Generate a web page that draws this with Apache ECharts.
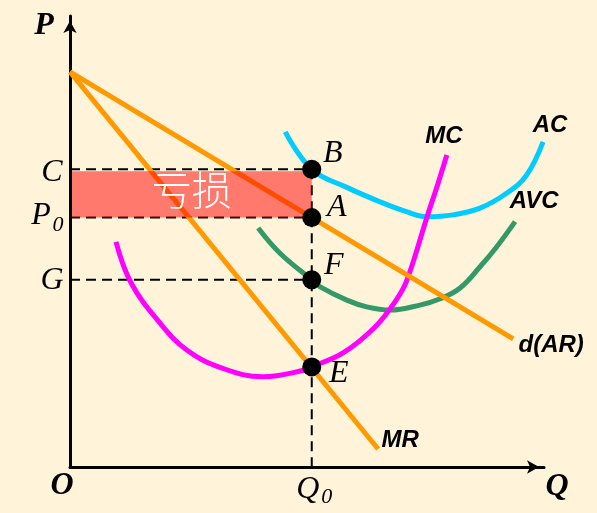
<!DOCTYPE html>
<html>
<head>
<meta charset="utf-8">
<script src="https://cdn.jsdelivr.net/npm/echarts@6/dist/echarts.min.js"></script>
<style>
html,body{margin:0;padding:0;background:#FFF3DA;}
#chart{width:597px;height:513px;}
</style>
</head>
<body>
<div id="chart"></div>
<script>
// ---- data (Q, P) ----
const demandAR = [[0, 87.6], [93.5, 28.4]];
const marginalRevenue = [[0, 87.6], [65, 4]];
const averageCost = [[45.4, 74.3], [51, 66], [58.4, 62.0], [65.4, 58.8], [71.0, 56.6], [75.3, 55.5], [80.8, 55.9], [86.5, 57.4], [92.1, 60.7], [96.3, 64.7], [99.8, 72.1]];
const averageVariableCost = [[39.7, 53.0], [44.3, 47.4], [51, 41.5], [52.7, 40.0], [58.4, 37.0], [62.6, 35.5], [67.5, 34.8], [73.8, 35.9], [78.1, 37.3], [82.3, 39.7], [86.5, 44.4], [90.0, 48.8], [93.9, 54.4]];
const marginalCost = [[9.7, 49.9], [12.9, 40.8], [19.0, 31.9], [24.7, 25.9], [31.9, 22.0], [40.7, 20.0], [49.6, 21.5], [51, 22.2], [57.6, 25.3], [64.3, 31.0], [68.8, 37.0], [71.1, 41.5], [75.3, 55.4], [77.4, 62.1], [79.5, 69.2]];
const outputQ0 = 51;
const pointPrices = [66, 55.3, 41.5, 22.2];   // B, A, F, E
const pointNames = ['B', 'A', 'F', 'E'];
const curveNames = ['d(AR)', 'MR', 'AC', 'AVC', 'MC'];
const lossLabel = '亏损';
const axisNames = ['P', 'Q', 'O'];

const chart = echarts.init(document.getElementById('chart'), null, {renderer: 'canvas'});

const serif = 'Liberation Serif, Times New Roman, serif';
const sans = 'Liberation Sans, Arial, sans-serif';

function labelItem(pt, text, offset, style) {
  return {
    value: pt,
    label: Object.assign({show: true, position: 'inside', formatter: text, offset: offset, color: '#000', opacity: 1, align: 'center', verticalAlign: 'middle'}, style)
  };
}
const serifIt = {fontFamily: serif, fontStyle: 'italic', fontSize: 32};
const serifSub = {fontFamily: serif, fontStyle: 'italic', fontSize: 22};
const serifBold = {fontFamily: serif, fontStyle: 'italic', fontWeight: 'bold', fontSize: 32};
const sansBold = {fontFamily: sans, fontStyle: 'italic', fontWeight: 'bold', fontSize: 24};

const dEnd = demandAR[demandAR.length - 1];
const mrEnd = marginalRevenue[marginalRevenue.length - 1];
const acEnd = averageCost[averageCost.length - 1];
const avcEnd = averageVariableCost[averageVariableCost.length - 1];
const mcEnd = marginalCost[marginalCost.length - 1];

const textLabels = [
  labelItem(dEnd, curveNames[0], [38, 6], sansBold),
  labelItem(mrEnd, curveNames[1], [22, -9], sansBold),
  labelItem(acEnd, curveNames[2], [7, -16], sansBold),
  labelItem(avcEnd, curveNames[3], [19, -20], sansBold),
  labelItem(mcEnd, curveNames[4], [-3, -19], sansBold),
  labelItem([0, 100], axisNames[0], [-26, 10], serifBold),
  labelItem([100, 0], axisNames[1], [13, 20], serifBold),
  labelItem([0, 0], axisNames[2], [-8, 19], serifBold),
  labelItem([0, pointPrices[0]], 'C', [-18, 3], serifIt),
  labelItem([0, pointPrices[1]], 'P', [-29, -2], serifIt),
  labelItem([0, pointPrices[1]], '0', [-12, 8], serifSub),
  labelItem([0, pointPrices[2]], 'G', [-18, 1], serifIt),
  labelItem([outputQ0, 0], 'Q', [-4, 23], serifIt),
  labelItem([outputQ0, 0], '0', [15, 30], serifSub)
];

const dotOffsets = [[21, -16], [25, -10], [22, -14], [27, 7]];
const dots = pointPrices.map((p, i) => ({
  value: [outputQ0, p],
  label: Object.assign({show: true, position: 'inside', formatter: pointNames[i], offset: dotOffsets[i], color: '#000', opacity: 1, align: 'center', verticalAlign: 'middle'}, serifIt)
}));

function curve(data, color, z) {
  return {type: 'line', data: data, smooth: 0.4, showSymbol: false, symbol: 'none', z: z || 2,
    lineStyle: {color: color, width: 5, cap: 'butt'}, silent: true, clip: false};
}
function dashed(data) {
  return {type: 'line', data: data, showSymbol: false, symbol: 'none', z: 1,
    lineStyle: {color: '#000', width: 2, type: [10, 6]}, silent: true};
}

const option = {
  backgroundColor: '#FFF3DA',
  animation: false,
  grid: {left: 70, right: 53, top: 16, bottom: 46, containLabel: false},
  xAxis: {type: 'value', min: 0, max: 100,
    axisLine: {show: true, onZero: false, lineStyle: {color: '#000', width: 3}, symbol: ['none', 'arrow'], symbolSize: [10, 12], symbolOffset: [0, -5]},
    axisTick: {show: false}, axisLabel: {show: false}, splitLine: {show: false}},
  yAxis: {type: 'value', min: 0, max: 100,
    axisLine: {show: true, onZero: false, lineStyle: {color: '#000', width: 3}, symbol: ['none', 'arrow'], symbolSize: [10, 12], symbolOffset: [0, -5]},
    axisTick: {show: false}, axisLabel: {show: false}, splitLine: {show: false}},
  series: [
    dashed([[0, pointPrices[0]], [outputQ0, pointPrices[0]]]),
    dashed([[0, pointPrices[1]], [outputQ0, pointPrices[1]]]),
    dashed([[0, pointPrices[2]], [outputQ0, pointPrices[2]]]),
    dashed([[outputQ0, pointPrices[0]], [outputQ0, 0]]),
    curve(averageCost, '#00CCFF'),
    curve(averageVariableCost, '#339966'),
    curve(marginalCost, '#FF00FF'),
    curve(demandAR, '#FF9900'),
    curve(marginalRevenue, '#FF9900'),
    {
      type: 'custom', z: 5, silent: true,
      data: [[0, pointPrices[1], outputQ0, pointPrices[0]]],
      renderItem: function (params, api) {
        const p1 = api.coord([api.value(0), api.value(3)]);
        const p2 = api.coord([api.value(2), api.value(1)]);
        return {
          type: 'rect',
          shape: {x: p1[0] + 2, y: p1[1] + 2, width: p2[0] - p1[0] - 2, height: p2[1] - p1[1] - 2},
          style: {fill: 'rgba(255,0,0,0.5)'},
          textContent: {style: {text: lossLabel, fill: '#fff', fontSize: 40, fontFamily: 'Noto Sans CJK SC', fontWeight: 300}},
          textConfig: {position: 'inside', offset: [0, -5]}
        };
      }
    },
    {
      type: 'scatter', z: 6, data: dots, symbolSize: 19, clip: false,
      itemStyle: {color: '#000', opacity: 1}, silent: true
    },
    {
      type: 'scatter', z: 7, data: textLabels, symbolSize: 1, clip: false,
      itemStyle: {color: 'rgba(0,0,0,0)', opacity: 1}, silent: true
    }
  ]
};
chart.setOption(option);
</script>
</body>
</html>
